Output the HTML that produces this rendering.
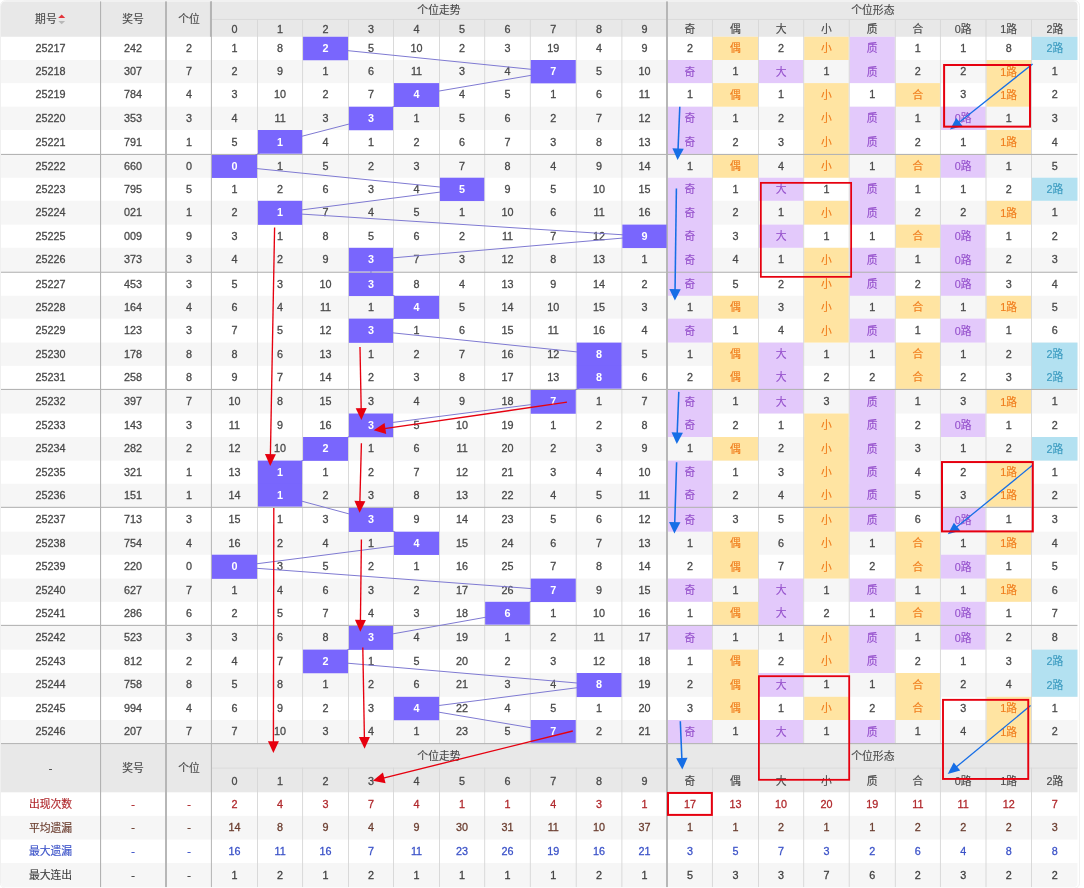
<!DOCTYPE html>
<html lang="zh-CN">
<head>
<meta charset="utf-8">
<title>个位走势</title>
<style>html,body{margin:0;padding:0;background:#fff;}svg{display:block;}text{fill:currentColor;stroke:currentColor;stroke-width:.14px;}text.n{stroke-width:.28px;}.hit text{stroke-width:0;}</style>
</head>
<body>
<svg width="1084" height="888" viewBox="0 0 1084 888" font-family="'Liberation Sans', 'Noto Sans CJK SC', sans-serif" font-size="10.8" text-anchor="middle" color="#484848">
<defs><clipPath id="tbl"><rect x="1" y="1.2" width="1076.7" height="886" rx="4.5" ry="4.5"/></clipPath></defs>
<rect x="0" y="0" width="1084" height="888" fill="#ffffff"/>
<rect x="0.5" y="0.6" width="1079" height="887.6" rx="5" ry="5" fill="#ffffff" stroke="#f0f0f0" stroke-width="1"/>
<g clip-path="url(#tbl)">
<rect x="1" y="1.2" width="1076.7" height="886" fill="#ffffff"/>
<rect x="1" y="1.2" width="1076.7" height="35.55" fill="#e8e8e8"/>
<rect x="1" y="744.15" width="1076.7" height="48.15" fill="#e8e8e8"/>
<rect x="1" y="60" width="1076.7" height="23.1" fill="#f6f6f6"/>
<rect x="1" y="106.7" width="1076.7" height="23.3" fill="#f6f6f6"/>
<rect x="1" y="155" width="1076.7" height="22.7" fill="#f6f6f6"/>
<rect x="1" y="200.8" width="1076.7" height="23.8" fill="#f6f6f6"/>
<rect x="1" y="247.8" width="1076.7" height="23.9" fill="#f6f6f6"/>
<rect x="1" y="295.8" width="1076.7" height="22.8" fill="#f6f6f6"/>
<rect x="1" y="342.6" width="1076.7" height="23.2" fill="#f6f6f6"/>
<rect x="1" y="390" width="1076.7" height="23.5" fill="#f6f6f6"/>
<rect x="1" y="437" width="1076.7" height="23.6" fill="#f6f6f6"/>
<rect x="1" y="483.8" width="1076.7" height="23" fill="#f6f6f6"/>
<rect x="1" y="531.7" width="1076.7" height="23" fill="#f6f6f6"/>
<rect x="1" y="578.6" width="1076.7" height="23.2" fill="#f6f6f6"/>
<rect x="1" y="625.95" width="1076.7" height="23.65" fill="#f6f6f6"/>
<rect x="1" y="673" width="1076.7" height="23.8" fill="#f6f6f6"/>
<rect x="1" y="720" width="1076.7" height="23.05" fill="#f6f6f6"/>
<rect x="1" y="815.9" width="1076.7" height="23.6" fill="#f6f6f6"/>
<rect x="1" y="863.1" width="1076.7" height="24.1" fill="#f6f6f6"/>
<rect x="668" y="60" width="43.95" height="23.1" fill="#e3c9fb"/>
<rect x="668" y="106.7" width="43.95" height="47.2" fill="#e3c9fb"/>
<rect x="668" y="177.7" width="43.95" height="118.1" fill="#e3c9fb"/>
<rect x="668" y="318.6" width="43.95" height="24" fill="#e3c9fb"/>
<rect x="668" y="390" width="43.95" height="47" fill="#e3c9fb"/>
<rect x="668" y="460.6" width="43.95" height="71.1" fill="#e3c9fb"/>
<rect x="668" y="578.6" width="43.95" height="23.2" fill="#e3c9fb"/>
<rect x="668" y="625.95" width="43.95" height="23.65" fill="#e3c9fb"/>
<rect x="668" y="720" width="43.95" height="23.05" fill="#e3c9fb"/>
<rect x="712.85" y="36.75" width="45.2" height="23.25" fill="#ffe4a2"/>
<rect x="712.85" y="83.1" width="45.2" height="23.6" fill="#ffe4a2"/>
<rect x="712.85" y="155" width="45.2" height="22.7" fill="#ffe4a2"/>
<rect x="712.85" y="295.8" width="45.2" height="22.8" fill="#ffe4a2"/>
<rect x="712.85" y="342.6" width="45.2" height="46.3" fill="#ffe4a2"/>
<rect x="712.85" y="437" width="45.2" height="23.6" fill="#ffe4a2"/>
<rect x="712.85" y="531.7" width="45.2" height="46.9" fill="#ffe4a2"/>
<rect x="712.85" y="601.8" width="45.2" height="23.05" fill="#ffe4a2"/>
<rect x="712.85" y="649.6" width="45.2" height="70.4" fill="#ffe4a2"/>
<rect x="758.95" y="60" width="44.3" height="23.1" fill="#e3c9fb"/>
<rect x="758.95" y="177.7" width="44.3" height="23.1" fill="#e3c9fb"/>
<rect x="758.95" y="224.6" width="44.3" height="23.2" fill="#e3c9fb"/>
<rect x="758.95" y="342.6" width="44.3" height="70.9" fill="#e3c9fb"/>
<rect x="758.95" y="578.6" width="44.3" height="46.25" fill="#e3c9fb"/>
<rect x="758.95" y="673" width="44.3" height="23.8" fill="#e3c9fb"/>
<rect x="758.95" y="720" width="44.3" height="23.05" fill="#e3c9fb"/>
<rect x="804.15" y="36.75" width="44.6" height="23.25" fill="#ffe4a2"/>
<rect x="804.15" y="83.1" width="44.6" height="94.6" fill="#ffe4a2"/>
<rect x="804.15" y="200.8" width="44.6" height="23.8" fill="#ffe4a2"/>
<rect x="804.15" y="247.8" width="44.6" height="94.8" fill="#ffe4a2"/>
<rect x="804.15" y="413.5" width="44.6" height="165.1" fill="#ffe4a2"/>
<rect x="804.15" y="625.95" width="44.6" height="47.05" fill="#ffe4a2"/>
<rect x="804.15" y="696.8" width="44.6" height="23.2" fill="#ffe4a2"/>
<rect x="849.65" y="36.75" width="45.2" height="46.35" fill="#e3c9fb"/>
<rect x="849.65" y="106.7" width="45.2" height="47.2" fill="#e3c9fb"/>
<rect x="849.65" y="177.7" width="45.2" height="46.9" fill="#e3c9fb"/>
<rect x="849.65" y="247.8" width="45.2" height="48" fill="#e3c9fb"/>
<rect x="849.65" y="318.6" width="45.2" height="24" fill="#e3c9fb"/>
<rect x="849.65" y="390" width="45.2" height="141.7" fill="#e3c9fb"/>
<rect x="849.65" y="578.6" width="45.2" height="23.2" fill="#e3c9fb"/>
<rect x="849.65" y="625.95" width="45.2" height="47.05" fill="#e3c9fb"/>
<rect x="849.65" y="720" width="45.2" height="23.05" fill="#e3c9fb"/>
<rect x="895.75" y="83.1" width="44.2" height="23.6" fill="#ffe4a2"/>
<rect x="895.75" y="155" width="44.2" height="22.7" fill="#ffe4a2"/>
<rect x="895.75" y="224.6" width="44.2" height="23.2" fill="#ffe4a2"/>
<rect x="895.75" y="295.8" width="44.2" height="22.8" fill="#ffe4a2"/>
<rect x="895.75" y="342.6" width="44.2" height="46.3" fill="#ffe4a2"/>
<rect x="895.75" y="531.7" width="44.2" height="46.9" fill="#ffe4a2"/>
<rect x="895.75" y="601.8" width="44.2" height="23.05" fill="#ffe4a2"/>
<rect x="895.75" y="673" width="44.2" height="47" fill="#ffe4a2"/>
<rect x="940.85" y="106.7" width="44.7" height="23.3" fill="#e3c9fb"/>
<rect x="940.85" y="155" width="44.7" height="22.7" fill="#e3c9fb"/>
<rect x="940.85" y="224.6" width="44.7" height="71.2" fill="#e3c9fb"/>
<rect x="940.85" y="318.6" width="44.7" height="24" fill="#e3c9fb"/>
<rect x="940.85" y="413.5" width="44.7" height="23.5" fill="#e3c9fb"/>
<rect x="940.85" y="507.9" width="44.7" height="23.8" fill="#e3c9fb"/>
<rect x="940.85" y="554.7" width="44.7" height="23.9" fill="#e3c9fb"/>
<rect x="940.85" y="601.8" width="44.7" height="47.8" fill="#e3c9fb"/>
<rect x="986.45" y="60" width="44.6" height="46.7" fill="#ffe4a2"/>
<rect x="986.45" y="130" width="44.6" height="23.9" fill="#ffe4a2"/>
<rect x="986.45" y="200.8" width="44.6" height="23.8" fill="#ffe4a2"/>
<rect x="986.45" y="295.8" width="44.6" height="22.8" fill="#ffe4a2"/>
<rect x="986.45" y="390" width="44.6" height="23.5" fill="#ffe4a2"/>
<rect x="986.45" y="460.6" width="44.6" height="46.2" fill="#ffe4a2"/>
<rect x="986.45" y="531.7" width="44.6" height="23" fill="#ffe4a2"/>
<rect x="986.45" y="578.6" width="44.6" height="23.2" fill="#ffe4a2"/>
<rect x="986.45" y="696.8" width="44.6" height="46.25" fill="#ffe4a2"/>
<rect x="1031.95" y="36.75" width="45.75" height="23.25" fill="#b3e1f1"/>
<rect x="1031.95" y="177.7" width="45.75" height="23.1" fill="#b3e1f1"/>
<rect x="1031.95" y="342.6" width="45.75" height="46.3" fill="#b3e1f1"/>
<rect x="1031.95" y="437" width="45.75" height="23.6" fill="#b3e1f1"/>
<rect x="1031.95" y="649.6" width="45.75" height="47.2" fill="#b3e1f1"/>
<rect x="257.05" y="19.4" width="0.9" height="867.8" fill="#d6d6d6"/>
<rect x="302.15" y="19.4" width="0.9" height="867.8" fill="#d6d6d6"/>
<rect x="348" y="19.4" width="0.9" height="867.8" fill="#d6d6d6"/>
<rect x="393.05" y="19.4" width="0.9" height="867.8" fill="#d6d6d6"/>
<rect x="439.05" y="19.4" width="0.9" height="867.8" fill="#d6d6d6"/>
<rect x="484.25" y="19.4" width="0.9" height="867.8" fill="#d6d6d6"/>
<rect x="529.85" y="19.4" width="0.9" height="867.8" fill="#d6d6d6"/>
<rect x="575.75" y="19.4" width="0.9" height="867.8" fill="#d6d6d6"/>
<rect x="621.45" y="19.4" width="0.9" height="867.8" fill="#d6d6d6"/>
<rect x="711.95" y="19.4" width="0.9" height="867.8" fill="#d6d6d6"/>
<rect x="758.05" y="19.4" width="0.9" height="867.8" fill="#d6d6d6"/>
<rect x="803.25" y="19.4" width="0.9" height="867.8" fill="#d6d6d6"/>
<rect x="848.75" y="19.4" width="0.9" height="867.8" fill="#d6d6d6"/>
<rect x="894.85" y="19.4" width="0.9" height="867.8" fill="#d6d6d6"/>
<rect x="939.95" y="19.4" width="0.9" height="867.8" fill="#d6d6d6"/>
<rect x="985.55" y="19.4" width="0.9" height="867.8" fill="#d6d6d6"/>
<rect x="1031.05" y="19.4" width="0.9" height="867.8" fill="#d6d6d6"/>
<rect x="211.9" y="744.15" width="865.8" height="23.45" fill="#e8e8e8"/>
<rect x="211.9" y="18.95" width="865.8" height="0.9" fill="#d9d9d9"/>
<rect x="211.9" y="767.65" width="865.8" height="0.9" fill="#d9d9d9"/>
<rect x="1" y="153.9" width="1076.7" height="1.1" fill="#b4b4b4"/>
<rect x="1" y="271.7" width="1076.7" height="1.1" fill="#b4b4b4"/>
<rect x="1" y="388.9" width="1076.7" height="1.1" fill="#b4b4b4"/>
<rect x="1" y="506.8" width="1076.7" height="1.1" fill="#b4b4b4"/>
<rect x="1" y="624.85" width="1076.7" height="1.1" fill="#b4b4b4"/>
<rect x="1" y="743.05" width="1076.7" height="1.1" fill="#b4b4b4"/>
<rect x="100" y="1.2" width="1.1" height="886" fill="#b2b2b2"/>
<rect x="165.05" y="1.2" width="1.9" height="886" fill="#b4b4b4"/>
<rect x="210.9" y="1.2" width="1" height="886" fill="#b4b4b4"/>
<rect x="209.95" y="1.2" width="1.9" height="35.55" fill="#b4b4b4"/>
<rect x="666.05" y="1.2" width="1.9" height="886" fill="#b4b4b4"/>
<text x="45.9" y="22.98">期号</text>
<path d="M58.2 18.1 L61.7 14.5 L65.2 18.1 Z" fill="#e3333a"/>
<path d="M58.3 20.9 L65.1 20.9 L61.7 24.3 Z" fill="#b8b8b8"/>
<text x="133.07" y="22.98">奖号</text>
<text x="188.93" y="22.98">个位</text>
<text x="438.95" y="14.3">个位走势</text>
<text x="872.85" y="14.3">个位形态</text>
<text x="234.45" y="32.52" class="n">0</text>
<text x="280.05" y="32.52" class="n">1</text>
<text x="325.52" y="32.52" class="n">2</text>
<text x="370.98" y="32.52" class="n">3</text>
<text x="416.5" y="32.52" class="n">4</text>
<text x="462.1" y="32.52" class="n">5</text>
<text x="507.5" y="32.52" class="n">6</text>
<text x="553.25" y="32.52" class="n">7</text>
<text x="599.05" y="32.52" class="n">8</text>
<text x="644.45" y="32.52" class="n">9</text>
<text x="689.97" y="32.97">奇</text>
<text x="735.45" y="32.97">偶</text>
<text x="781.1" y="32.97">大</text>
<text x="826.45" y="32.97">小</text>
<text x="872.25" y="32.97">质</text>
<text x="917.85" y="32.97">合</text>
<text x="963.2" y="32.97">0路</text>
<text x="1008.75" y="32.97">1路</text>
<text x="1054.83" y="32.97">2路</text>
<text x="50.5" y="771.77" class="n">-</text>
<text x="133.07" y="772.22">奖号</text>
<text x="188.93" y="772.22">个位</text>
<text x="438.95" y="760.12">个位走势</text>
<text x="872.85" y="760.12">个位形态</text>
<text x="234.45" y="784.65" class="n">0</text>
<text x="280.05" y="784.65" class="n">1</text>
<text x="325.52" y="784.65" class="n">2</text>
<text x="370.98" y="784.65" class="n">3</text>
<text x="416.5" y="784.65" class="n">4</text>
<text x="462.1" y="784.65" class="n">5</text>
<text x="507.5" y="784.65" class="n">6</text>
<text x="553.25" y="784.65" class="n">7</text>
<text x="599.05" y="784.65" class="n">8</text>
<text x="644.45" y="784.65" class="n">9</text>
<text x="689.97" y="785.1">奇</text>
<text x="735.45" y="785.1">偶</text>
<text x="781.1" y="785.1">大</text>
<text x="826.45" y="785.1">小</text>
<text x="872.25" y="785.1">质</text>
<text x="917.85" y="785.1">合</text>
<text x="963.2" y="785.1">0路</text>
<text x="1008.75" y="785.1">1路</text>
<text x="1054.83" y="785.1">2路</text>
<text x="50.5" y="51.92" class="n">25217</text>
<text x="133.07" y="51.92" class="n">242</text>
<text x="188.93" y="51.92" class="n">2</text>
<text x="234.45" y="51.92" class="n">1</text>
<text x="280.05" y="51.92" class="n">8</text>
<text x="370.98" y="51.92" class="n">5</text>
<text x="416.5" y="51.92" class="n">10</text>
<text x="462.1" y="51.92" class="n">2</text>
<text x="507.5" y="51.92" class="n">3</text>
<text x="553.25" y="51.92" class="n">19</text>
<text x="599.05" y="51.92" class="n">4</text>
<text x="644.45" y="51.92" class="n">9</text>
<text x="689.97" y="51.92" class="n">2</text>
<text x="735.45" y="52.38" color="#f07d1c">偶</text>
<text x="781.1" y="51.92" class="n">2</text>
<text x="826.45" y="52.38" color="#f07d1c">小</text>
<text x="872.25" y="52.38" color="#9550cc">质</text>
<text x="917.85" y="51.92" class="n">1</text>
<text x="963.2" y="51.92" class="n">1</text>
<text x="1008.75" y="51.92" class="n">8</text>
<text x="1054.83" y="52.38" color="#3d9cc0">2路</text>
<text x="50.5" y="75.1" class="n">25218</text>
<text x="133.07" y="75.1" class="n">307</text>
<text x="188.93" y="75.1" class="n">7</text>
<text x="234.45" y="75.1" class="n">2</text>
<text x="280.05" y="75.1" class="n">9</text>
<text x="325.52" y="75.1" class="n">1</text>
<text x="370.98" y="75.1" class="n">6</text>
<text x="416.5" y="75.1" class="n">11</text>
<text x="462.1" y="75.1" class="n">3</text>
<text x="507.5" y="75.1" class="n">4</text>
<text x="599.05" y="75.1" class="n">5</text>
<text x="644.45" y="75.1" class="n">10</text>
<text x="689.97" y="75.55" color="#9550cc">奇</text>
<text x="735.45" y="75.1" class="n">1</text>
<text x="781.1" y="75.55" color="#9550cc">大</text>
<text x="826.45" y="75.1" class="n">1</text>
<text x="872.25" y="75.55" color="#9550cc">质</text>
<text x="917.85" y="75.1" class="n">2</text>
<text x="963.2" y="75.1" class="n">2</text>
<text x="1008.75" y="75.55" color="#f07d1c">1路</text>
<text x="1054.83" y="75.1" class="n">1</text>
<text x="50.5" y="98.45" class="n">25219</text>
<text x="133.07" y="98.45" class="n">784</text>
<text x="188.93" y="98.45" class="n">4</text>
<text x="234.45" y="98.45" class="n">3</text>
<text x="280.05" y="98.45" class="n">10</text>
<text x="325.52" y="98.45" class="n">2</text>
<text x="370.98" y="98.45" class="n">7</text>
<text x="462.1" y="98.45" class="n">4</text>
<text x="507.5" y="98.45" class="n">5</text>
<text x="553.25" y="98.45" class="n">1</text>
<text x="599.05" y="98.45" class="n">6</text>
<text x="644.45" y="98.45" class="n">11</text>
<text x="689.97" y="98.45" class="n">1</text>
<text x="735.45" y="98.9" color="#f07d1c">偶</text>
<text x="781.1" y="98.45" class="n">1</text>
<text x="826.45" y="98.9" color="#f07d1c">小</text>
<text x="872.25" y="98.45" class="n">1</text>
<text x="917.85" y="98.9" color="#f07d1c">合</text>
<text x="963.2" y="98.45" class="n">3</text>
<text x="1008.75" y="98.9" color="#f07d1c">1路</text>
<text x="1054.83" y="98.45" class="n">2</text>
<text x="50.5" y="121.9" class="n">25220</text>
<text x="133.07" y="121.9" class="n">353</text>
<text x="188.93" y="121.9" class="n">3</text>
<text x="234.45" y="121.9" class="n">4</text>
<text x="280.05" y="121.9" class="n">11</text>
<text x="325.52" y="121.9" class="n">3</text>
<text x="416.5" y="121.9" class="n">1</text>
<text x="462.1" y="121.9" class="n">5</text>
<text x="507.5" y="121.9" class="n">6</text>
<text x="553.25" y="121.9" class="n">2</text>
<text x="599.05" y="121.9" class="n">7</text>
<text x="644.45" y="121.9" class="n">12</text>
<text x="689.97" y="122.35" color="#9550cc">奇</text>
<text x="735.45" y="121.9" class="n">1</text>
<text x="781.1" y="121.9" class="n">2</text>
<text x="826.45" y="122.35" color="#f07d1c">小</text>
<text x="872.25" y="122.35" color="#9550cc">质</text>
<text x="917.85" y="121.9" class="n">1</text>
<text x="963.2" y="122.35" color="#9550cc">0路</text>
<text x="1008.75" y="121.9" class="n">1</text>
<text x="1054.83" y="121.9" class="n">3</text>
<text x="50.5" y="145.5" class="n">25221</text>
<text x="133.07" y="145.5" class="n">791</text>
<text x="188.93" y="145.5" class="n">1</text>
<text x="234.45" y="145.5" class="n">5</text>
<text x="325.52" y="145.5" class="n">4</text>
<text x="370.98" y="145.5" class="n">1</text>
<text x="416.5" y="145.5" class="n">2</text>
<text x="462.1" y="145.5" class="n">6</text>
<text x="507.5" y="145.5" class="n">7</text>
<text x="553.25" y="145.5" class="n">3</text>
<text x="599.05" y="145.5" class="n">8</text>
<text x="644.45" y="145.5" class="n">13</text>
<text x="689.97" y="145.95" color="#9550cc">奇</text>
<text x="735.45" y="145.5" class="n">2</text>
<text x="781.1" y="145.5" class="n">3</text>
<text x="826.45" y="145.95" color="#f07d1c">小</text>
<text x="872.25" y="145.95" color="#9550cc">质</text>
<text x="917.85" y="145.5" class="n">2</text>
<text x="963.2" y="145.5" class="n">1</text>
<text x="1008.75" y="145.95" color="#f07d1c">1路</text>
<text x="1054.83" y="145.5" class="n">4</text>
<text x="50.5" y="169.9" class="n">25222</text>
<text x="133.07" y="169.9" class="n">660</text>
<text x="188.93" y="169.9" class="n">0</text>
<text x="280.05" y="169.9" class="n">1</text>
<text x="325.52" y="169.9" class="n">5</text>
<text x="370.98" y="169.9" class="n">2</text>
<text x="416.5" y="169.9" class="n">3</text>
<text x="462.1" y="169.9" class="n">7</text>
<text x="507.5" y="169.9" class="n">8</text>
<text x="553.25" y="169.9" class="n">4</text>
<text x="599.05" y="169.9" class="n">9</text>
<text x="644.45" y="169.9" class="n">14</text>
<text x="689.97" y="169.9" class="n">1</text>
<text x="735.45" y="170.35" color="#f07d1c">偶</text>
<text x="781.1" y="169.9" class="n">4</text>
<text x="826.45" y="170.35" color="#f07d1c">小</text>
<text x="872.25" y="169.9" class="n">1</text>
<text x="917.85" y="170.35" color="#f07d1c">合</text>
<text x="963.2" y="170.35" color="#9550cc">0路</text>
<text x="1008.75" y="169.9" class="n">1</text>
<text x="1054.83" y="169.9" class="n">5</text>
<text x="50.5" y="192.8" class="n">25223</text>
<text x="133.07" y="192.8" class="n">795</text>
<text x="188.93" y="192.8" class="n">5</text>
<text x="234.45" y="192.8" class="n">1</text>
<text x="280.05" y="192.8" class="n">2</text>
<text x="325.52" y="192.8" class="n">6</text>
<text x="370.98" y="192.8" class="n">3</text>
<text x="416.5" y="192.8" class="n">4</text>
<text x="507.5" y="192.8" class="n">9</text>
<text x="553.25" y="192.8" class="n">5</text>
<text x="599.05" y="192.8" class="n">10</text>
<text x="644.45" y="192.8" class="n">15</text>
<text x="689.97" y="193.25" color="#9550cc">奇</text>
<text x="735.45" y="192.8" class="n">1</text>
<text x="781.1" y="193.25" color="#9550cc">大</text>
<text x="826.45" y="192.8" class="n">1</text>
<text x="872.25" y="193.25" color="#9550cc">质</text>
<text x="917.85" y="192.8" class="n">1</text>
<text x="963.2" y="192.8" class="n">1</text>
<text x="1008.75" y="192.8" class="n">2</text>
<text x="1054.83" y="193.25" color="#3d9cc0">2路</text>
<text x="50.5" y="216.25" class="n">25224</text>
<text x="133.07" y="216.25" class="n">021</text>
<text x="188.93" y="216.25" class="n">1</text>
<text x="234.45" y="216.25" class="n">2</text>
<text x="325.52" y="216.25" class="n">7</text>
<text x="370.98" y="216.25" class="n">4</text>
<text x="416.5" y="216.25" class="n">5</text>
<text x="462.1" y="216.25" class="n">1</text>
<text x="507.5" y="216.25" class="n">10</text>
<text x="553.25" y="216.25" class="n">6</text>
<text x="599.05" y="216.25" class="n">11</text>
<text x="644.45" y="216.25" class="n">16</text>
<text x="689.97" y="216.7" color="#9550cc">奇</text>
<text x="735.45" y="216.25" class="n">2</text>
<text x="781.1" y="216.25" class="n">1</text>
<text x="826.45" y="216.7" color="#f07d1c">小</text>
<text x="872.25" y="216.7" color="#9550cc">质</text>
<text x="917.85" y="216.25" class="n">2</text>
<text x="963.2" y="216.25" class="n">2</text>
<text x="1008.75" y="216.7" color="#f07d1c">1路</text>
<text x="1054.83" y="216.25" class="n">1</text>
<text x="50.5" y="239.75" class="n">25225</text>
<text x="133.07" y="239.75" class="n">009</text>
<text x="188.93" y="239.75" class="n">9</text>
<text x="234.45" y="239.75" class="n">3</text>
<text x="280.05" y="239.75" class="n">1</text>
<text x="325.52" y="239.75" class="n">8</text>
<text x="370.98" y="239.75" class="n">5</text>
<text x="416.5" y="239.75" class="n">6</text>
<text x="462.1" y="239.75" class="n">2</text>
<text x="507.5" y="239.75" class="n">11</text>
<text x="553.25" y="239.75" class="n">7</text>
<text x="599.05" y="239.75" class="n">12</text>
<text x="689.97" y="240.2" color="#9550cc">奇</text>
<text x="735.45" y="239.75" class="n">3</text>
<text x="781.1" y="240.2" color="#9550cc">大</text>
<text x="826.45" y="239.75" class="n">1</text>
<text x="872.25" y="239.75" class="n">1</text>
<text x="917.85" y="240.2" color="#f07d1c">合</text>
<text x="963.2" y="240.2" color="#9550cc">0路</text>
<text x="1008.75" y="239.75" class="n">1</text>
<text x="1054.83" y="239.75" class="n">2</text>
<text x="50.5" y="263.3" class="n">25226</text>
<text x="133.07" y="263.3" class="n">373</text>
<text x="188.93" y="263.3" class="n">3</text>
<text x="234.45" y="263.3" class="n">4</text>
<text x="280.05" y="263.3" class="n">2</text>
<text x="325.52" y="263.3" class="n">9</text>
<text x="416.5" y="263.3" class="n">7</text>
<text x="462.1" y="263.3" class="n">3</text>
<text x="507.5" y="263.3" class="n">12</text>
<text x="553.25" y="263.3" class="n">8</text>
<text x="599.05" y="263.3" class="n">13</text>
<text x="644.45" y="263.3" class="n">1</text>
<text x="689.97" y="263.75" color="#9550cc">奇</text>
<text x="735.45" y="263.3" class="n">4</text>
<text x="781.1" y="263.3" class="n">1</text>
<text x="826.45" y="263.75" color="#f07d1c">小</text>
<text x="872.25" y="263.75" color="#9550cc">质</text>
<text x="917.85" y="263.3" class="n">1</text>
<text x="963.2" y="263.75" color="#9550cc">0路</text>
<text x="1008.75" y="263.3" class="n">2</text>
<text x="1054.83" y="263.3" class="n">3</text>
<text x="50.5" y="287.85" class="n">25227</text>
<text x="133.07" y="287.85" class="n">453</text>
<text x="188.93" y="287.85" class="n">3</text>
<text x="234.45" y="287.85" class="n">5</text>
<text x="280.05" y="287.85" class="n">3</text>
<text x="325.52" y="287.85" class="n">10</text>
<text x="416.5" y="287.85" class="n">8</text>
<text x="462.1" y="287.85" class="n">4</text>
<text x="507.5" y="287.85" class="n">13</text>
<text x="553.25" y="287.85" class="n">9</text>
<text x="599.05" y="287.85" class="n">14</text>
<text x="644.45" y="287.85" class="n">2</text>
<text x="689.97" y="288.3" color="#9550cc">奇</text>
<text x="735.45" y="287.85" class="n">5</text>
<text x="781.1" y="287.85" class="n">2</text>
<text x="826.45" y="288.3" color="#f07d1c">小</text>
<text x="872.25" y="288.3" color="#9550cc">质</text>
<text x="917.85" y="287.85" class="n">2</text>
<text x="963.2" y="288.3" color="#9550cc">0路</text>
<text x="1008.75" y="287.85" class="n">3</text>
<text x="1054.83" y="287.85" class="n">4</text>
<text x="50.5" y="310.75" class="n">25228</text>
<text x="133.07" y="310.75" class="n">164</text>
<text x="188.93" y="310.75" class="n">4</text>
<text x="234.45" y="310.75" class="n">6</text>
<text x="280.05" y="310.75" class="n">4</text>
<text x="325.52" y="310.75" class="n">11</text>
<text x="370.98" y="310.75" class="n">1</text>
<text x="462.1" y="310.75" class="n">5</text>
<text x="507.5" y="310.75" class="n">14</text>
<text x="553.25" y="310.75" class="n">10</text>
<text x="599.05" y="310.75" class="n">15</text>
<text x="644.45" y="310.75" class="n">3</text>
<text x="689.97" y="310.75" class="n">1</text>
<text x="735.45" y="311.2" color="#f07d1c">偶</text>
<text x="781.1" y="310.75" class="n">3</text>
<text x="826.45" y="311.2" color="#f07d1c">小</text>
<text x="872.25" y="310.75" class="n">1</text>
<text x="917.85" y="311.2" color="#f07d1c">合</text>
<text x="963.2" y="310.75" class="n">1</text>
<text x="1008.75" y="311.2" color="#f07d1c">1路</text>
<text x="1054.83" y="310.75" class="n">5</text>
<text x="50.5" y="334.15" class="n">25229</text>
<text x="133.07" y="334.15" class="n">123</text>
<text x="188.93" y="334.15" class="n">3</text>
<text x="234.45" y="334.15" class="n">7</text>
<text x="280.05" y="334.15" class="n">5</text>
<text x="325.52" y="334.15" class="n">12</text>
<text x="416.5" y="334.15" class="n">1</text>
<text x="462.1" y="334.15" class="n">6</text>
<text x="507.5" y="334.15" class="n">15</text>
<text x="553.25" y="334.15" class="n">11</text>
<text x="599.05" y="334.15" class="n">16</text>
<text x="644.45" y="334.15" class="n">4</text>
<text x="689.97" y="334.6" color="#9550cc">奇</text>
<text x="735.45" y="334.15" class="n">1</text>
<text x="781.1" y="334.15" class="n">4</text>
<text x="826.45" y="334.6" color="#f07d1c">小</text>
<text x="872.25" y="334.6" color="#9550cc">质</text>
<text x="917.85" y="334.15" class="n">1</text>
<text x="963.2" y="334.6" color="#9550cc">0路</text>
<text x="1008.75" y="334.15" class="n">1</text>
<text x="1054.83" y="334.15" class="n">6</text>
<text x="50.5" y="357.75" class="n">25230</text>
<text x="133.07" y="357.75" class="n">178</text>
<text x="188.93" y="357.75" class="n">8</text>
<text x="234.45" y="357.75" class="n">8</text>
<text x="280.05" y="357.75" class="n">6</text>
<text x="325.52" y="357.75" class="n">13</text>
<text x="370.98" y="357.75" class="n">1</text>
<text x="416.5" y="357.75" class="n">2</text>
<text x="462.1" y="357.75" class="n">7</text>
<text x="507.5" y="357.75" class="n">16</text>
<text x="553.25" y="357.75" class="n">12</text>
<text x="644.45" y="357.75" class="n">5</text>
<text x="689.97" y="357.75" class="n">1</text>
<text x="735.45" y="358.2" color="#f07d1c">偶</text>
<text x="781.1" y="358.2" color="#9550cc">大</text>
<text x="826.45" y="357.75" class="n">1</text>
<text x="872.25" y="357.75" class="n">1</text>
<text x="917.85" y="358.2" color="#f07d1c">合</text>
<text x="963.2" y="357.75" class="n">1</text>
<text x="1008.75" y="357.75" class="n">2</text>
<text x="1054.83" y="358.2" color="#3d9cc0">2路</text>
<text x="50.5" y="380.9" class="n">25231</text>
<text x="133.07" y="380.9" class="n">258</text>
<text x="188.93" y="380.9" class="n">8</text>
<text x="234.45" y="380.9" class="n">9</text>
<text x="280.05" y="380.9" class="n">7</text>
<text x="325.52" y="380.9" class="n">14</text>
<text x="370.98" y="380.9" class="n">2</text>
<text x="416.5" y="380.9" class="n">3</text>
<text x="462.1" y="380.9" class="n">8</text>
<text x="507.5" y="380.9" class="n">17</text>
<text x="553.25" y="380.9" class="n">13</text>
<text x="644.45" y="380.9" class="n">6</text>
<text x="689.97" y="380.9" class="n">2</text>
<text x="735.45" y="381.35" color="#f07d1c">偶</text>
<text x="781.1" y="381.35" color="#9550cc">大</text>
<text x="826.45" y="380.9" class="n">2</text>
<text x="872.25" y="380.9" class="n">2</text>
<text x="917.85" y="381.35" color="#f07d1c">合</text>
<text x="963.2" y="380.9" class="n">2</text>
<text x="1008.75" y="380.9" class="n">3</text>
<text x="1054.83" y="381.35" color="#3d9cc0">2路</text>
<text x="50.5" y="405.3" class="n">25232</text>
<text x="133.07" y="405.3" class="n">397</text>
<text x="188.93" y="405.3" class="n">7</text>
<text x="234.45" y="405.3" class="n">10</text>
<text x="280.05" y="405.3" class="n">8</text>
<text x="325.52" y="405.3" class="n">15</text>
<text x="370.98" y="405.3" class="n">3</text>
<text x="416.5" y="405.3" class="n">4</text>
<text x="462.1" y="405.3" class="n">9</text>
<text x="507.5" y="405.3" class="n">18</text>
<text x="599.05" y="405.3" class="n">1</text>
<text x="644.45" y="405.3" class="n">7</text>
<text x="689.97" y="405.75" color="#9550cc">奇</text>
<text x="735.45" y="405.3" class="n">1</text>
<text x="781.1" y="405.75" color="#9550cc">大</text>
<text x="826.45" y="405.3" class="n">3</text>
<text x="872.25" y="405.75" color="#9550cc">质</text>
<text x="917.85" y="405.3" class="n">1</text>
<text x="963.2" y="405.3" class="n">3</text>
<text x="1008.75" y="405.75" color="#f07d1c">1路</text>
<text x="1054.83" y="405.3" class="n">1</text>
<text x="50.5" y="428.8" class="n">25233</text>
<text x="133.07" y="428.8" class="n">143</text>
<text x="188.93" y="428.8" class="n">3</text>
<text x="234.45" y="428.8" class="n">11</text>
<text x="280.05" y="428.8" class="n">9</text>
<text x="325.52" y="428.8" class="n">16</text>
<text x="416.5" y="428.8" class="n">5</text>
<text x="462.1" y="428.8" class="n">10</text>
<text x="507.5" y="428.8" class="n">19</text>
<text x="553.25" y="428.8" class="n">1</text>
<text x="599.05" y="428.8" class="n">2</text>
<text x="644.45" y="428.8" class="n">8</text>
<text x="689.97" y="429.25" color="#9550cc">奇</text>
<text x="735.45" y="428.8" class="n">2</text>
<text x="781.1" y="428.8" class="n">1</text>
<text x="826.45" y="429.25" color="#f07d1c">小</text>
<text x="872.25" y="429.25" color="#9550cc">质</text>
<text x="917.85" y="428.8" class="n">2</text>
<text x="963.2" y="429.25" color="#9550cc">0路</text>
<text x="1008.75" y="428.8" class="n">1</text>
<text x="1054.83" y="428.8" class="n">2</text>
<text x="50.5" y="452.35" class="n">25234</text>
<text x="133.07" y="452.35" class="n">282</text>
<text x="188.93" y="452.35" class="n">2</text>
<text x="234.45" y="452.35" class="n">12</text>
<text x="280.05" y="452.35" class="n">10</text>
<text x="370.98" y="452.35" class="n">1</text>
<text x="416.5" y="452.35" class="n">6</text>
<text x="462.1" y="452.35" class="n">11</text>
<text x="507.5" y="452.35" class="n">20</text>
<text x="553.25" y="452.35" class="n">2</text>
<text x="599.05" y="452.35" class="n">3</text>
<text x="644.45" y="452.35" class="n">9</text>
<text x="689.97" y="452.35" class="n">1</text>
<text x="735.45" y="452.8" color="#f07d1c">偶</text>
<text x="781.1" y="452.35" class="n">2</text>
<text x="826.45" y="452.8" color="#f07d1c">小</text>
<text x="872.25" y="452.8" color="#9550cc">质</text>
<text x="917.85" y="452.35" class="n">3</text>
<text x="963.2" y="452.35" class="n">1</text>
<text x="1008.75" y="452.35" class="n">2</text>
<text x="1054.83" y="452.8" color="#3d9cc0">2路</text>
<text x="50.5" y="475.75" class="n">25235</text>
<text x="133.07" y="475.75" class="n">321</text>
<text x="188.93" y="475.75" class="n">1</text>
<text x="234.45" y="475.75" class="n">13</text>
<text x="325.52" y="475.75" class="n">1</text>
<text x="370.98" y="475.75" class="n">2</text>
<text x="416.5" y="475.75" class="n">7</text>
<text x="462.1" y="475.75" class="n">12</text>
<text x="507.5" y="475.75" class="n">21</text>
<text x="553.25" y="475.75" class="n">3</text>
<text x="599.05" y="475.75" class="n">4</text>
<text x="644.45" y="475.75" class="n">10</text>
<text x="689.97" y="476.2" color="#9550cc">奇</text>
<text x="735.45" y="475.75" class="n">1</text>
<text x="781.1" y="475.75" class="n">3</text>
<text x="826.45" y="476.2" color="#f07d1c">小</text>
<text x="872.25" y="476.2" color="#9550cc">质</text>
<text x="917.85" y="475.75" class="n">4</text>
<text x="963.2" y="475.75" class="n">2</text>
<text x="1008.75" y="476.2" color="#f07d1c">1路</text>
<text x="1054.83" y="475.75" class="n">1</text>
<text x="50.5" y="498.85" class="n">25236</text>
<text x="133.07" y="498.85" class="n">151</text>
<text x="188.93" y="498.85" class="n">1</text>
<text x="234.45" y="498.85" class="n">14</text>
<text x="325.52" y="498.85" class="n">2</text>
<text x="370.98" y="498.85" class="n">3</text>
<text x="416.5" y="498.85" class="n">8</text>
<text x="462.1" y="498.85" class="n">13</text>
<text x="507.5" y="498.85" class="n">22</text>
<text x="553.25" y="498.85" class="n">4</text>
<text x="599.05" y="498.85" class="n">5</text>
<text x="644.45" y="498.85" class="n">11</text>
<text x="689.97" y="499.3" color="#9550cc">奇</text>
<text x="735.45" y="498.85" class="n">2</text>
<text x="781.1" y="498.85" class="n">4</text>
<text x="826.45" y="499.3" color="#f07d1c">小</text>
<text x="872.25" y="499.3" color="#9550cc">质</text>
<text x="917.85" y="498.85" class="n">5</text>
<text x="963.2" y="498.85" class="n">3</text>
<text x="1008.75" y="499.3" color="#f07d1c">1路</text>
<text x="1054.83" y="498.85" class="n">2</text>
<text x="50.5" y="523.35" class="n">25237</text>
<text x="133.07" y="523.35" class="n">713</text>
<text x="188.93" y="523.35" class="n">3</text>
<text x="234.45" y="523.35" class="n">15</text>
<text x="280.05" y="523.35" class="n">1</text>
<text x="325.52" y="523.35" class="n">3</text>
<text x="416.5" y="523.35" class="n">9</text>
<text x="462.1" y="523.35" class="n">14</text>
<text x="507.5" y="523.35" class="n">23</text>
<text x="553.25" y="523.35" class="n">5</text>
<text x="599.05" y="523.35" class="n">6</text>
<text x="644.45" y="523.35" class="n">12</text>
<text x="689.97" y="523.8" color="#9550cc">奇</text>
<text x="735.45" y="523.35" class="n">3</text>
<text x="781.1" y="523.35" class="n">5</text>
<text x="826.45" y="523.8" color="#f07d1c">小</text>
<text x="872.25" y="523.8" color="#9550cc">质</text>
<text x="917.85" y="523.35" class="n">6</text>
<text x="963.2" y="523.8" color="#9550cc">0路</text>
<text x="1008.75" y="523.35" class="n">1</text>
<text x="1054.83" y="523.35" class="n">3</text>
<text x="50.5" y="546.75" class="n">25238</text>
<text x="133.07" y="546.75" class="n">754</text>
<text x="188.93" y="546.75" class="n">4</text>
<text x="234.45" y="546.75" class="n">16</text>
<text x="280.05" y="546.75" class="n">2</text>
<text x="325.52" y="546.75" class="n">4</text>
<text x="370.98" y="546.75" class="n">1</text>
<text x="462.1" y="546.75" class="n">15</text>
<text x="507.5" y="546.75" class="n">24</text>
<text x="553.25" y="546.75" class="n">6</text>
<text x="599.05" y="546.75" class="n">7</text>
<text x="644.45" y="546.75" class="n">13</text>
<text x="689.97" y="546.75" class="n">1</text>
<text x="735.45" y="547.2" color="#f07d1c">偶</text>
<text x="781.1" y="546.75" class="n">6</text>
<text x="826.45" y="547.2" color="#f07d1c">小</text>
<text x="872.25" y="546.75" class="n">1</text>
<text x="917.85" y="547.2" color="#f07d1c">合</text>
<text x="963.2" y="546.75" class="n">1</text>
<text x="1008.75" y="547.2" color="#f07d1c">1路</text>
<text x="1054.83" y="546.75" class="n">4</text>
<text x="50.5" y="570.2" class="n">25239</text>
<text x="133.07" y="570.2" class="n">220</text>
<text x="188.93" y="570.2" class="n">0</text>
<text x="280.05" y="570.2" class="n">3</text>
<text x="325.52" y="570.2" class="n">5</text>
<text x="370.98" y="570.2" class="n">2</text>
<text x="416.5" y="570.2" class="n">1</text>
<text x="462.1" y="570.2" class="n">16</text>
<text x="507.5" y="570.2" class="n">25</text>
<text x="553.25" y="570.2" class="n">7</text>
<text x="599.05" y="570.2" class="n">8</text>
<text x="644.45" y="570.2" class="n">14</text>
<text x="689.97" y="570.2" class="n">2</text>
<text x="735.45" y="570.65" color="#f07d1c">偶</text>
<text x="781.1" y="570.2" class="n">7</text>
<text x="826.45" y="570.65" color="#f07d1c">小</text>
<text x="872.25" y="570.2" class="n">2</text>
<text x="917.85" y="570.65" color="#f07d1c">合</text>
<text x="963.2" y="570.65" color="#9550cc">0路</text>
<text x="1008.75" y="570.2" class="n">1</text>
<text x="1054.83" y="570.2" class="n">5</text>
<text x="50.5" y="593.75" class="n">25240</text>
<text x="133.07" y="593.75" class="n">627</text>
<text x="188.93" y="593.75" class="n">7</text>
<text x="234.45" y="593.75" class="n">1</text>
<text x="280.05" y="593.75" class="n">4</text>
<text x="325.52" y="593.75" class="n">6</text>
<text x="370.98" y="593.75" class="n">3</text>
<text x="416.5" y="593.75" class="n">2</text>
<text x="462.1" y="593.75" class="n">17</text>
<text x="507.5" y="593.75" class="n">26</text>
<text x="599.05" y="593.75" class="n">9</text>
<text x="644.45" y="593.75" class="n">15</text>
<text x="689.97" y="594.2" color="#9550cc">奇</text>
<text x="735.45" y="593.75" class="n">1</text>
<text x="781.1" y="594.2" color="#9550cc">大</text>
<text x="826.45" y="593.75" class="n">1</text>
<text x="872.25" y="594.2" color="#9550cc">质</text>
<text x="917.85" y="593.75" class="n">1</text>
<text x="963.2" y="593.75" class="n">1</text>
<text x="1008.75" y="594.2" color="#f07d1c">1路</text>
<text x="1054.83" y="593.75" class="n">6</text>
<text x="50.5" y="616.88" class="n">25241</text>
<text x="133.07" y="616.88" class="n">286</text>
<text x="188.93" y="616.88" class="n">6</text>
<text x="234.45" y="616.88" class="n">2</text>
<text x="280.05" y="616.88" class="n">5</text>
<text x="325.52" y="616.88" class="n">7</text>
<text x="370.98" y="616.88" class="n">4</text>
<text x="416.5" y="616.88" class="n">3</text>
<text x="462.1" y="616.88" class="n">18</text>
<text x="553.25" y="616.88" class="n">1</text>
<text x="599.05" y="616.88" class="n">10</text>
<text x="644.45" y="616.88" class="n">16</text>
<text x="689.97" y="616.88" class="n">1</text>
<text x="735.45" y="617.33" color="#f07d1c">偶</text>
<text x="781.1" y="617.33" color="#9550cc">大</text>
<text x="826.45" y="616.88" class="n">2</text>
<text x="872.25" y="616.88" class="n">1</text>
<text x="917.85" y="617.33" color="#f07d1c">合</text>
<text x="963.2" y="617.33" color="#9550cc">0路</text>
<text x="1008.75" y="616.88" class="n">1</text>
<text x="1054.83" y="616.88" class="n">7</text>
<text x="50.5" y="641.33" class="n">25242</text>
<text x="133.07" y="641.33" class="n">523</text>
<text x="188.93" y="641.33" class="n">3</text>
<text x="234.45" y="641.33" class="n">3</text>
<text x="280.05" y="641.33" class="n">6</text>
<text x="325.52" y="641.33" class="n">8</text>
<text x="416.5" y="641.33" class="n">4</text>
<text x="462.1" y="641.33" class="n">19</text>
<text x="507.5" y="641.33" class="n">1</text>
<text x="553.25" y="641.33" class="n">2</text>
<text x="599.05" y="641.33" class="n">11</text>
<text x="644.45" y="641.33" class="n">17</text>
<text x="689.97" y="641.78" color="#9550cc">奇</text>
<text x="735.45" y="641.33" class="n">1</text>
<text x="781.1" y="641.33" class="n">1</text>
<text x="826.45" y="641.78" color="#f07d1c">小</text>
<text x="872.25" y="641.78" color="#9550cc">质</text>
<text x="917.85" y="641.33" class="n">1</text>
<text x="963.2" y="641.78" color="#9550cc">0路</text>
<text x="1008.75" y="641.33" class="n">2</text>
<text x="1054.83" y="641.33" class="n">8</text>
<text x="50.5" y="664.85" class="n">25243</text>
<text x="133.07" y="664.85" class="n">812</text>
<text x="188.93" y="664.85" class="n">2</text>
<text x="234.45" y="664.85" class="n">4</text>
<text x="280.05" y="664.85" class="n">7</text>
<text x="370.98" y="664.85" class="n">1</text>
<text x="416.5" y="664.85" class="n">5</text>
<text x="462.1" y="664.85" class="n">20</text>
<text x="507.5" y="664.85" class="n">2</text>
<text x="553.25" y="664.85" class="n">3</text>
<text x="599.05" y="664.85" class="n">12</text>
<text x="644.45" y="664.85" class="n">18</text>
<text x="689.97" y="664.85" class="n">1</text>
<text x="735.45" y="665.3" color="#f07d1c">偶</text>
<text x="781.1" y="664.85" class="n">2</text>
<text x="826.45" y="665.3" color="#f07d1c">小</text>
<text x="872.25" y="665.3" color="#9550cc">质</text>
<text x="917.85" y="664.85" class="n">2</text>
<text x="963.2" y="664.85" class="n">1</text>
<text x="1008.75" y="664.85" class="n">3</text>
<text x="1054.83" y="665.3" color="#3d9cc0">2路</text>
<text x="50.5" y="688.45" class="n">25244</text>
<text x="133.07" y="688.45" class="n">758</text>
<text x="188.93" y="688.45" class="n">8</text>
<text x="234.45" y="688.45" class="n">5</text>
<text x="280.05" y="688.45" class="n">8</text>
<text x="325.52" y="688.45" class="n">1</text>
<text x="370.98" y="688.45" class="n">2</text>
<text x="416.5" y="688.45" class="n">6</text>
<text x="462.1" y="688.45" class="n">21</text>
<text x="507.5" y="688.45" class="n">3</text>
<text x="553.25" y="688.45" class="n">4</text>
<text x="644.45" y="688.45" class="n">19</text>
<text x="689.97" y="688.45" class="n">2</text>
<text x="735.45" y="688.9" color="#f07d1c">偶</text>
<text x="781.1" y="688.9" color="#9550cc">大</text>
<text x="826.45" y="688.45" class="n">1</text>
<text x="872.25" y="688.45" class="n">1</text>
<text x="917.85" y="688.9" color="#f07d1c">合</text>
<text x="963.2" y="688.45" class="n">2</text>
<text x="1008.75" y="688.45" class="n">4</text>
<text x="1054.83" y="688.9" color="#3d9cc0">2路</text>
<text x="50.5" y="711.95" class="n">25245</text>
<text x="133.07" y="711.95" class="n">994</text>
<text x="188.93" y="711.95" class="n">4</text>
<text x="234.45" y="711.95" class="n">6</text>
<text x="280.05" y="711.95" class="n">9</text>
<text x="325.52" y="711.95" class="n">2</text>
<text x="370.98" y="711.95" class="n">3</text>
<text x="462.1" y="711.95" class="n">22</text>
<text x="507.5" y="711.95" class="n">4</text>
<text x="553.25" y="711.95" class="n">5</text>
<text x="599.05" y="711.95" class="n">1</text>
<text x="644.45" y="711.95" class="n">20</text>
<text x="689.97" y="711.95" class="n">3</text>
<text x="735.45" y="712.4" color="#f07d1c">偶</text>
<text x="781.1" y="711.95" class="n">1</text>
<text x="826.45" y="712.4" color="#f07d1c">小</text>
<text x="872.25" y="711.95" class="n">2</text>
<text x="917.85" y="712.4" color="#f07d1c">合</text>
<text x="963.2" y="711.95" class="n">3</text>
<text x="1008.75" y="712.4" color="#f07d1c">1路</text>
<text x="1054.83" y="711.95" class="n">1</text>
<text x="50.5" y="735.08" class="n">25246</text>
<text x="133.07" y="735.08" class="n">207</text>
<text x="188.93" y="735.08" class="n">7</text>
<text x="234.45" y="735.08" class="n">7</text>
<text x="280.05" y="735.08" class="n">10</text>
<text x="325.52" y="735.08" class="n">3</text>
<text x="370.98" y="735.08" class="n">4</text>
<text x="416.5" y="735.08" class="n">1</text>
<text x="462.1" y="735.08" class="n">23</text>
<text x="507.5" y="735.08" class="n">5</text>
<text x="599.05" y="735.08" class="n">2</text>
<text x="644.45" y="735.08" class="n">21</text>
<text x="689.97" y="735.53" color="#9550cc">奇</text>
<text x="735.45" y="735.08" class="n">1</text>
<text x="781.1" y="735.53" color="#9550cc">大</text>
<text x="826.45" y="735.08" class="n">1</text>
<text x="872.25" y="735.53" color="#9550cc">质</text>
<text x="917.85" y="735.08" class="n">1</text>
<text x="963.2" y="735.08" class="n">4</text>
<text x="1008.75" y="735.53" color="#f07d1c">1路</text>
<text x="1054.83" y="735.08" class="n">2</text>
<g color="#b0282c">
<text x="50.5" y="808.1">出现次数</text>
<text x="133.07" y="807.65" class="n">-</text>
<text x="188.93" y="807.65" class="n">-</text>
<text x="234.45" y="807.65" class="n">2</text>
<text x="280.05" y="807.65" class="n">4</text>
<text x="325.52" y="807.65" class="n">3</text>
<text x="370.98" y="807.65" class="n">7</text>
<text x="416.5" y="807.65" class="n">4</text>
<text x="462.1" y="807.65" class="n">1</text>
<text x="507.5" y="807.65" class="n">1</text>
<text x="553.25" y="807.65" class="n">4</text>
<text x="599.05" y="807.65" class="n">3</text>
<text x="644.45" y="807.65" class="n">1</text>
<text x="689.97" y="807.65" class="n">17</text>
<text x="735.45" y="807.65" class="n">13</text>
<text x="781.1" y="807.65" class="n">10</text>
<text x="826.45" y="807.65" class="n">20</text>
<text x="872.25" y="807.65" class="n">19</text>
<text x="917.85" y="807.65" class="n">11</text>
<text x="963.2" y="807.65" class="n">11</text>
<text x="1008.75" y="807.65" class="n">12</text>
<text x="1054.83" y="807.65" class="n">7</text>
</g>
<g color="#6a3c2e">
<text x="50.5" y="831.7">平均遗漏</text>
<text x="133.07" y="831.25" class="n">-</text>
<text x="188.93" y="831.25" class="n">-</text>
<text x="234.45" y="831.25" class="n">14</text>
<text x="280.05" y="831.25" class="n">8</text>
<text x="325.52" y="831.25" class="n">9</text>
<text x="370.98" y="831.25" class="n">4</text>
<text x="416.5" y="831.25" class="n">9</text>
<text x="462.1" y="831.25" class="n">30</text>
<text x="507.5" y="831.25" class="n">31</text>
<text x="553.25" y="831.25" class="n">11</text>
<text x="599.05" y="831.25" class="n">10</text>
<text x="644.45" y="831.25" class="n">37</text>
<text x="689.97" y="831.25" class="n">1</text>
<text x="735.45" y="831.25" class="n">1</text>
<text x="781.1" y="831.25" class="n">2</text>
<text x="826.45" y="831.25" class="n">1</text>
<text x="872.25" y="831.25" class="n">1</text>
<text x="917.85" y="831.25" class="n">2</text>
<text x="963.2" y="831.25" class="n">2</text>
<text x="1008.75" y="831.25" class="n">2</text>
<text x="1054.83" y="831.25" class="n">3</text>
</g>
<g color="#3b52c8">
<text x="50.5" y="855.3">最大遗漏</text>
<text x="133.07" y="854.85" class="n">-</text>
<text x="188.93" y="854.85" class="n">-</text>
<text x="234.45" y="854.85" class="n">16</text>
<text x="280.05" y="854.85" class="n">11</text>
<text x="325.52" y="854.85" class="n">16</text>
<text x="370.98" y="854.85" class="n">7</text>
<text x="416.5" y="854.85" class="n">11</text>
<text x="462.1" y="854.85" class="n">23</text>
<text x="507.5" y="854.85" class="n">26</text>
<text x="553.25" y="854.85" class="n">19</text>
<text x="599.05" y="854.85" class="n">16</text>
<text x="644.45" y="854.85" class="n">21</text>
<text x="689.97" y="854.85" class="n">3</text>
<text x="735.45" y="854.85" class="n">5</text>
<text x="781.1" y="854.85" class="n">7</text>
<text x="826.45" y="854.85" class="n">3</text>
<text x="872.25" y="854.85" class="n">2</text>
<text x="917.85" y="854.85" class="n">6</text>
<text x="963.2" y="854.85" class="n">4</text>
<text x="1008.75" y="854.85" class="n">8</text>
<text x="1054.83" y="854.85" class="n">8</text>
</g>
<g color="#404040">
<text x="50.5" y="879.15">最大连出</text>
<text x="133.07" y="878.7" class="n">-</text>
<text x="188.93" y="878.7" class="n">-</text>
<text x="234.45" y="878.7" class="n">1</text>
<text x="280.05" y="878.7" class="n">2</text>
<text x="325.52" y="878.7" class="n">1</text>
<text x="370.98" y="878.7" class="n">2</text>
<text x="416.5" y="878.7" class="n">1</text>
<text x="462.1" y="878.7" class="n">1</text>
<text x="507.5" y="878.7" class="n">1</text>
<text x="553.25" y="878.7" class="n">1</text>
<text x="599.05" y="878.7" class="n">2</text>
<text x="644.45" y="878.7" class="n">1</text>
<text x="689.97" y="878.7" class="n">5</text>
<text x="735.45" y="878.7" class="n">3</text>
<text x="781.1" y="878.7" class="n">3</text>
<text x="826.45" y="878.7" class="n">7</text>
<text x="872.25" y="878.7" class="n">6</text>
<text x="917.85" y="878.7" class="n">2</text>
<text x="963.2" y="878.7" class="n">3</text>
<text x="1008.75" y="878.7" class="n">2</text>
<text x="1054.83" y="878.7" class="n">2</text>
</g>
<g stroke="#7f7ad2" stroke-width="1" fill="none">
<line x1="325.52" y1="48.38" x2="553.25" y2="71.55"/>
<line x1="553.25" y1="71.55" x2="416.5" y2="94.9"/>
<line x1="416.5" y1="94.9" x2="370.98" y2="118.35"/>
<line x1="370.98" y1="118.35" x2="280.05" y2="141.95"/>
<line x1="280.05" y1="141.95" x2="234.45" y2="166.35"/>
<line x1="234.45" y1="166.35" x2="462.1" y2="189.25"/>
<line x1="462.1" y1="189.25" x2="280.05" y2="212.7"/>
<line x1="280.05" y1="212.7" x2="644.45" y2="236.2"/>
<line x1="644.45" y1="236.2" x2="370.98" y2="259.75"/>
<line x1="370.98" y1="259.75" x2="370.98" y2="284.3"/>
<line x1="370.98" y1="284.3" x2="416.5" y2="307.2"/>
<line x1="416.5" y1="307.2" x2="370.98" y2="330.6"/>
<line x1="370.98" y1="330.6" x2="599.05" y2="354.2"/>
<line x1="599.05" y1="354.2" x2="599.05" y2="377.35"/>
<line x1="599.05" y1="377.35" x2="553.25" y2="401.75"/>
<line x1="553.25" y1="401.75" x2="370.98" y2="425.25"/>
<line x1="370.98" y1="425.25" x2="325.52" y2="448.8"/>
<line x1="325.52" y1="448.8" x2="280.05" y2="472.2"/>
<line x1="280.05" y1="472.2" x2="280.05" y2="495.3"/>
<line x1="280.05" y1="495.3" x2="370.98" y2="519.8"/>
<line x1="370.98" y1="519.8" x2="416.5" y2="543.2"/>
<line x1="416.5" y1="543.2" x2="234.45" y2="566.65"/>
<line x1="234.45" y1="566.65" x2="553.25" y2="590.2"/>
<line x1="553.25" y1="590.2" x2="507.5" y2="613.33"/>
<line x1="507.5" y1="613.33" x2="370.98" y2="637.78"/>
<line x1="370.98" y1="637.78" x2="325.52" y2="661.3"/>
<line x1="325.52" y1="661.3" x2="599.05" y2="684.9"/>
<line x1="599.05" y1="684.9" x2="416.5" y2="708.4"/>
<line x1="416.5" y1="708.4" x2="553.25" y2="731.53"/>
</g>
<rect x="303.05" y="36.75" width="44.95" height="23.5" fill="#7966fd"/>
<rect x="530.75" y="60" width="45" height="23.35" fill="#7966fd"/>
<rect x="393.95" y="83.1" width="45.1" height="23.85" fill="#7966fd"/>
<rect x="348.9" y="106.7" width="44.15" height="23.55" fill="#7966fd"/>
<rect x="257.95" y="130" width="44.2" height="23.7" fill="#7966fd"/>
<rect x="211.85" y="155" width="45.2" height="22.95" fill="#7966fd"/>
<rect x="439.95" y="177.7" width="44.3" height="23.35" fill="#7966fd"/>
<rect x="257.95" y="200.8" width="44.2" height="24.05" fill="#7966fd"/>
<rect x="622.35" y="224.6" width="44.2" height="23.45" fill="#7966fd"/>
<rect x="348.9" y="247.8" width="44.15" height="23.7" fill="#7966fd"/>
<rect x="348.9" y="272.8" width="44.15" height="23.25" fill="#7966fd"/>
<rect x="393.95" y="295.8" width="45.1" height="23.05" fill="#7966fd"/>
<rect x="348.9" y="318.6" width="44.15" height="24.25" fill="#7966fd"/>
<rect x="576.65" y="342.6" width="44.8" height="23.45" fill="#7966fd"/>
<rect x="576.65" y="365.8" width="44.8" height="22.9" fill="#7966fd"/>
<rect x="530.75" y="390" width="45" height="23.75" fill="#7966fd"/>
<rect x="348.9" y="413.5" width="44.15" height="23.75" fill="#7966fd"/>
<rect x="303.05" y="437" width="44.95" height="23.85" fill="#7966fd"/>
<rect x="257.95" y="460.6" width="44.2" height="23.45" fill="#7966fd"/>
<rect x="257.95" y="483.8" width="44.2" height="22.8" fill="#7966fd"/>
<rect x="348.9" y="507.9" width="44.15" height="24.05" fill="#7966fd"/>
<rect x="393.95" y="531.7" width="45.1" height="23.25" fill="#7966fd"/>
<rect x="211.85" y="554.7" width="45.2" height="24.15" fill="#7966fd"/>
<rect x="530.75" y="578.6" width="45" height="23.45" fill="#7966fd"/>
<rect x="485.15" y="601.8" width="44.7" height="22.85" fill="#7966fd"/>
<rect x="348.9" y="625.95" width="44.15" height="23.9" fill="#7966fd"/>
<rect x="303.05" y="649.6" width="44.95" height="23.65" fill="#7966fd"/>
<rect x="576.65" y="673" width="44.8" height="24.05" fill="#7966fd"/>
<rect x="393.95" y="696.8" width="45.1" height="23.45" fill="#7966fd"/>
<rect x="530.75" y="720" width="45" height="22.85" fill="#7966fd"/>
<g color="#ffffff" font-weight="bold" class="hit">
<text x="325.52" y="51.92" class="n">2</text>
<text x="553.25" y="75.1" class="n">7</text>
<text x="416.5" y="98.45" class="n">4</text>
<text x="370.98" y="121.9" class="n">3</text>
<text x="280.05" y="145.5" class="n">1</text>
<text x="234.45" y="169.9" class="n">0</text>
<text x="462.1" y="192.8" class="n">5</text>
<text x="280.05" y="216.25" class="n">1</text>
<text x="644.45" y="239.75" class="n">9</text>
<text x="370.98" y="263.3" class="n">3</text>
<text x="370.98" y="287.85" class="n">3</text>
<text x="416.5" y="310.75" class="n">4</text>
<text x="370.98" y="334.15" class="n">3</text>
<text x="599.05" y="357.75" class="n">8</text>
<text x="599.05" y="380.9" class="n">8</text>
<text x="553.25" y="405.3" class="n">7</text>
<text x="370.98" y="428.8" class="n">3</text>
<text x="325.52" y="452.35" class="n">2</text>
<text x="280.05" y="475.75" class="n">1</text>
<text x="280.05" y="498.85" class="n">1</text>
<text x="370.98" y="523.35" class="n">3</text>
<text x="416.5" y="546.75" class="n">4</text>
<text x="234.45" y="570.2" class="n">0</text>
<text x="553.25" y="593.75" class="n">7</text>
<text x="507.5" y="616.88" class="n">6</text>
<text x="370.98" y="641.33" class="n">3</text>
<text x="325.52" y="664.85" class="n">2</text>
<text x="599.05" y="688.45" class="n">8</text>
<text x="416.5" y="711.95" class="n">4</text>
<text x="553.25" y="735.08" class="n">7</text>
</g>
</g>
<line x1="274.6" y1="227.6" x2="270.4" y2="455.2" stroke="#e6000f" stroke-width="1.35"/>
<path d="M270.2 466 L264.92 454.1 L275.92 454.3 Z" fill="#e6000f"/>
<line x1="273.8" y1="508" x2="273.42" y2="742.2" stroke="#e6000f" stroke-width="1.35"/>
<path d="M273.4 753 L267.92 741.19 L278.92 741.21 Z" fill="#e6000f"/>
<line x1="360" y1="347" x2="361.19" y2="409.2" stroke="#e6000f" stroke-width="1.35"/>
<path d="M361.4 420 L355.67 408.31 L366.67 408.1 Z" fill="#e6000f"/>
<line x1="361.4" y1="443.2" x2="359.88" y2="502" stroke="#e6000f" stroke-width="1.35"/>
<path d="M359.6 512.8 L354.41 500.86 L365.4 501.15 Z" fill="#e6000f"/>
<line x1="361.4" y1="539.4" x2="360.43" y2="620.9" stroke="#e6000f" stroke-width="1.35"/>
<path d="M360.3 631.7 L354.94 619.84 L365.94 619.97 Z" fill="#e6000f"/>
<line x1="362.8" y1="647.5" x2="364.41" y2="738" stroke="#e6000f" stroke-width="1.35"/>
<path d="M364.6 748.8 L358.89 737.1 L369.89 736.9 Z" fill="#e6000f"/>
<line x1="567" y1="402.2" x2="384.39" y2="428.65" stroke="#e6000f" stroke-width="1.35"/>
<path d="M373.7 430.2 L384.59 423.07 L386.17 433.95 Z" fill="#e6000f"/>
<line x1="572.8" y1="731" x2="383.28" y2="778.1" stroke="#e6000f" stroke-width="1.35"/>
<path d="M372.8 780.7 L382.93 772.52 L385.58 783.19 Z" fill="#e6000f"/>
<line x1="679.8" y1="106.8" x2="678.03" y2="149.61" stroke="#166ee6" stroke-width="1.55"/>
<path d="M677.6 160.1 L672.38 148.37 L683.77 148.84 Z" fill="#166ee6"/>
<line x1="676.4" y1="188.4" x2="675.04" y2="290.1" stroke="#166ee6" stroke-width="1.55"/>
<path d="M674.9 300.6 L669.35 289.02 L680.75 289.18 Z" fill="#166ee6"/>
<line x1="678.8" y1="391.9" x2="677.2" y2="433.41" stroke="#166ee6" stroke-width="1.55"/>
<path d="M676.8 443.9 L671.55 432.19 L682.94 432.63 Z" fill="#166ee6"/>
<line x1="676.6" y1="462.3" x2="674.72" y2="523.1" stroke="#166ee6" stroke-width="1.55"/>
<path d="M674.4 533.6 L669.06 521.93 L680.45 522.28 Z" fill="#166ee6"/>
<line x1="680.3" y1="721.2" x2="681.87" y2="759.01" stroke="#166ee6" stroke-width="1.55"/>
<path d="M682.3 769.5 L676.13 758.25 L687.52 757.77 Z" fill="#166ee6"/>
<line x1="1032.6" y1="64" x2="958.62" y2="122.67" stroke="#166ee6" stroke-width="1.3"/>
<path d="M950 129.5 L956.23 118.05 L962.57 126.04 Z" fill="#166ee6"/>
<line x1="1032.1" y1="465.6" x2="956.33" y2="527.35" stroke="#166ee6" stroke-width="1.3"/>
<path d="M947.8 534.3 L953.88 522.77 L960.32 530.67 Z" fill="#166ee6"/>
<line x1="1030.6" y1="705.6" x2="956.18" y2="767.09" stroke="#166ee6" stroke-width="1.3"/>
<path d="M947.7 774.1 L953.7 762.52 L960.2 770.39 Z" fill="#166ee6"/>
<rect x="760.85" y="182.85" width="90.3" height="94" fill="none" stroke="#e6000f" stroke-width="1.75"/>
<rect x="944.1" y="65" width="85.9" height="61.65" fill="none" stroke="#e6000f" stroke-width="2"/>
<rect x="758.9" y="676.2" width="90.3" height="103.6" fill="none" stroke="#e6000f" stroke-width="1.8"/>
<rect x="942" y="462.05" width="90.8" height="69.35" fill="none" stroke="#e6000f" stroke-width="2"/>
<rect x="943" y="699.85" width="85.25" height="79.1" fill="none" stroke="#e6000f" stroke-width="1.9"/>
<rect x="668" y="792.95" width="43.85" height="21.95" fill="none" stroke="#e6000f" stroke-width="2"/>
</svg>
</body>
</html>
